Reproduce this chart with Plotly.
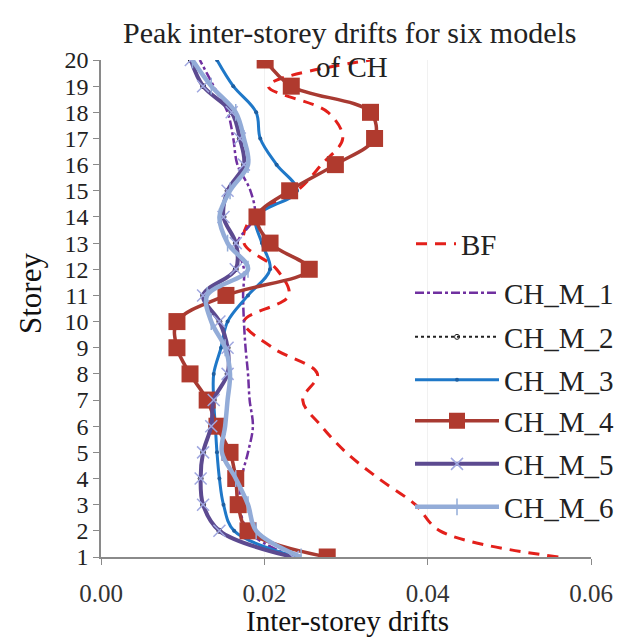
import plotly.graph_objects as go

storeys = list(range(1, 21))

bf = [0.056, 0.0415, 0.0385, 0.034, 0.030, 0.027, 0.0247, 0.0265, 0.021, 0.0175,
      0.023, 0.0215, 0.0175, 0.0185, 0.024, 0.027, 0.0296, 0.0278, 0.0205, 0.033]
ch_m_1 = [0.0235, 0.018, 0.017, 0.0172, 0.018, 0.0186, 0.0182, 0.018, 0.0177, 0.0175,
          0.0174, 0.0175, 0.0167, 0.0188, 0.0183, 0.0167, 0.0162, 0.0155, 0.0138, 0.0121]
ch_m_2 = [0.0235, 0.0145, 0.0125, 0.0122, 0.0125, 0.0135, 0.0138, 0.0155, 0.0155, 0.0145,
          0.0125, 0.0165, 0.0165, 0.015, 0.0155, 0.0175, 0.017, 0.016, 0.0125, 0.011]
ch_m_3 = [0.024, 0.0163, 0.015, 0.0145, 0.0142, 0.014, 0.0138, 0.0138, 0.0147, 0.0155,
          0.018, 0.0207, 0.0197, 0.019, 0.024, 0.0215, 0.0195, 0.019, 0.0162, 0.0142]
ch_m_4 = [0.0277, 0.018, 0.0168, 0.0165, 0.0158, 0.0142, 0.013, 0.0109, 0.0093, 0.0093,
          0.0153, 0.0255, 0.0207, 0.0191, 0.0231, 0.0287, 0.0335, 0.033, 0.0233, 0.0201]
ch_m_5 = [0.0235, 0.0145, 0.0125, 0.0122, 0.0125, 0.0135, 0.0138, 0.0155, 0.0155, 0.0145,
          0.0125, 0.0165, 0.0165, 0.015, 0.0155, 0.0175, 0.017, 0.016, 0.0125, 0.011]
ch_m_6 = [0.0245, 0.019, 0.018, 0.0165, 0.0148, 0.0152, 0.0155, 0.0158, 0.0152, 0.0135,
          0.013, 0.018, 0.0155, 0.0145, 0.0158, 0.018, 0.0175, 0.0165, 0.0135, 0.0112]

x_ticks = [0.0, 0.02, 0.04, 0.06]
x_tick_labels = ["0.00", "0.02", "0.04", "0.06"]
title_lines = ["Peak inter-storey drifts for six models", "of CH"]
x_title = "Inter-storey drifts"
y_title = "Storey"

FONT = "Liberation Serif"

# plot area in pixels (for placing legends / titles)
PLOT_LEFT, PLOT_RIGHT = 101, 591
PLOT_TOP, PLOT_BOTTOM = 60, 557
PLOT_W = PLOT_RIGHT - PLOT_LEFT
PLOT_H = PLOT_BOTTOM - PLOT_TOP


def px(p):
    return (p - PLOT_LEFT) / PLOT_W


def py(p):
    return (PLOT_BOTTOM - p) / PLOT_H


fig = go.Figure()
fig.add_trace(go.Scatter(x=bf, y=storeys, name="BF", mode="lines", line_shape="spline",
                         legend="legend",
                         line=dict(color="#e3201b", width=3, dash="11px,8px")))
fig.add_trace(go.Scatter(x=ch_m_1, y=storeys, name="CH_M_1", mode="lines", line_shape="spline",
                         legend="legend2",
                         line=dict(color="#7030a0", width=2.5, dash="dashdot")))
fig.add_trace(go.Scatter(x=ch_m_2, y=storeys, name="CH_M_2", mode="lines+markers", line_shape="spline",
                         legend="legend3",
                         line=dict(color="#222222", width=2, dash="dot"),
                         marker=dict(symbol="circle-open", size=5, color="#222222")))
fig.add_trace(go.Scatter(x=ch_m_3, y=storeys, name="CH_M_3", mode="lines+markers", line_shape="spline",
                         legend="legend4",
                         line=dict(color="#1f78c8", width=3),
                         marker=dict(symbol="circle", size=4, color="#1f5fa0")))
fig.add_trace(go.Scatter(x=ch_m_4, y=storeys, name="CH_M_4", mode="lines+markers", line_shape="spline",
                         legend="legend5",
                         line=dict(color="#a83a32", width=3.5),
                         marker=dict(symbol="square", size=17, color="#b03a2e")))
fig.add_trace(go.Scatter(x=ch_m_5, y=storeys, name="CH_M_5", mode="lines+markers", line_shape="spline",
                         legend="legend6",
                         line=dict(color="#5c4a90", width=4),
                         marker=dict(symbol="x-thin-open", size=12, color="#a0a8e0",
                                     line=dict(width=1.5, color="#a0a8e0"))))
fig.add_trace(go.Scatter(x=ch_m_6, y=storeys, name="CH_M_6", mode="lines+markers", line_shape="spline",
                         legend="legend7",
                         line=dict(color="#93acd8", width=4.5),
                         marker=dict(symbol="line-ns-open", size=12, color="#93acd8",
                                     line=dict(width=1.5, color="#93acd8"))))

legend_font = dict(family=FONT, size=29, color="#222222")
legend_common = dict(xanchor="left", yanchor="middle", bgcolor="rgba(0,0,0,0)",
                     font=legend_font, borderwidth=0)
legend_rows = [244, 293, 337, 380, 421, 464, 507]

layout_legends = {}
layout_legends["legend"] = dict(x=px(411), y=py(legend_rows[0]), itemwidth=40, **legend_common)
for i, row in enumerate(legend_rows[1:], start=2):
    layout_legends[f"legend{i}"] = dict(x=px(410), y=py(row), itemwidth=84, **legend_common)

fig.update_layout(
    width=630, height=639,
    margin=dict(l=PLOT_LEFT, r=630 - PLOT_RIGHT, t=PLOT_TOP, b=639 - PLOT_BOTTOM, autoexpand=False),
    paper_bgcolor="white", plot_bgcolor="white",
    font=dict(family=FONT, color="#111111", size=26),
    showlegend=True,
    **layout_legends,
)
fig.add_annotation(text=title_lines[0], xref="paper", yref="paper",
                   x=px(349), y=py(33), xanchor="center", yanchor="middle",
                   showarrow=False, font=dict(family=FONT, size=30, color="#222222"))
fig.add_annotation(text=title_lines[1], xref="paper", yref="paper",
                   x=px(352), y=py(67), xanchor="center", yanchor="middle",
                   showarrow=False, font=dict(family=FONT, size=29, color="#222222"))
fig.add_annotation(text=x_title, xref="paper", yref="paper",
                   x=px(347), y=py(621), xanchor="center", yanchor="middle",
                   showarrow=False, font=dict(family=FONT, size=29, color="#111111"))
fig.add_annotation(text=y_title, xref="paper", yref="paper",
                   x=px(30), y=py(294), xanchor="center", yanchor="middle", textangle=-90,
                   showarrow=False, font=dict(family=FONT, size=31, color="#111111"))

fig.update_xaxes(range=[0, 0.06], tickvals=x_ticks, ticktext=x_tick_labels,
                 automargin=False,
                 showline=True, linecolor="#8a8a8a", linewidth=1.5,
                 ticks="outside", ticklen=6, tickcolor="#8a8a8a",
                 ticklabelstandoff=7,
                 showgrid=True, gridcolor="#f1f1f1", zeroline=False,
                 tickfont=dict(family=FONT, size=25, color="#333333"))
fig.update_yaxes(range=[1, 20], tickvals=storeys,
                 automargin=False,
                 showline=True, linecolor="#8a8a8a", linewidth=1.5,
                 ticks="outside", ticklen=6, tickcolor="#8a8a8a",
                 showgrid=False, zeroline=False,
                 tickfont=dict(family=FONT, size=24, color="#222222"))

fig.write_html("out.html")
